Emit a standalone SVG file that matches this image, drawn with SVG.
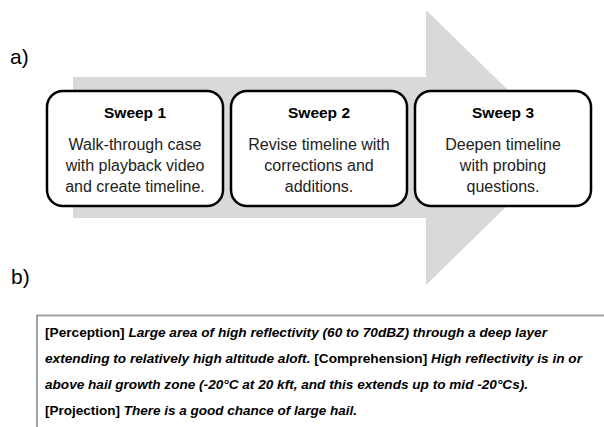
<svg xmlns="http://www.w3.org/2000/svg" width="604" height="427" viewBox="0 0 604 427">
<style>
.lbl{font-family:"Liberation Sans",Arial,sans-serif;font-size:21px;fill:#000}
.box{fill:#fff;stroke:#000;stroke-width:2.5}
.ttl{font-family:"Liberation Sans",Arial,sans-serif;font-size:15.5px;font-weight:bold;text-anchor:middle;fill:#000}
.bd{font-family:"Liberation Sans",Arial,sans-serif;font-size:16px;text-anchor:middle;fill:#222}
.tx{font-family:"Liberation Sans",Arial,sans-serif;font-size:12.5px;font-weight:bold;fill:#000}
.it{font-style:italic}
</style>
<rect width="604" height="427" fill="#fff"/>
<g id="arrow">
<polygon points="73,77 426,77 426,10 567,147.5 426,285 426,218 73,218" fill="#d9d9d9"/>
</g>
<text class="lbl" x="10" y="64">a)</text>
<text class="lbl" x="11" y="284">b)</text>
<g id="connectors"></g>
<g id="sweep1">
<rect class="box" x="47" y="91" width="176" height="115" rx="16"/>
<text class="ttl" x="135" y="118">Sweep 1</text>
<text class="bd" x="135" y="150">Walk-through case</text>
<text class="bd" x="135" y="171">with playback video</text>
<text class="bd" x="135" y="192">and create timeline.</text>
</g>
<g id="sweep2">
<rect class="box" x="231" y="91" width="176" height="115" rx="16"/>
<text class="ttl" x="319" y="118">Sweep 2</text>
<text class="bd" x="319" y="150">Revise timeline with</text>
<text class="bd" x="319" y="171">corrections and</text>
<text class="bd" x="319" y="192">additions.</text>
</g>
<g id="sweep3">
<rect class="box" x="415" y="91" width="176" height="115" rx="16"/>
<text class="ttl" x="503" y="118">Sweep 3</text>
<text class="bd" x="503" y="150">Deepen timeline</text>
<text class="bd" x="503" y="171">with probing</text>
<text class="bd" x="503" y="192">questions.</text>
</g>
<g id="textbox">
<path d="M37,427 V315.5 H604" fill="none" stroke="#a0a0a0" stroke-width="2"/>
<text class="tx" x="45" y="337" textLength="502" lengthAdjust="spacingAndGlyphs">[Perception] <tspan class="it">Large area of high reflectivity (60 to 70dBZ) through a deep layer</tspan></text>
<text class="tx" x="45" y="363" textLength="537" lengthAdjust="spacingAndGlyphs"><tspan class="it">extending to relatively high altitude aloft.</tspan> [Comprehension] <tspan class="it">High reflectivity is in or</tspan></text>
<text class="tx" x="45" y="389" textLength="483" lengthAdjust="spacingAndGlyphs"><tspan class="it">above hail growth zone (-20°C at 20 kft, and this extends up to mid -20°Cs).</tspan></text>
<text class="tx" x="45" y="415" textLength="312" lengthAdjust="spacingAndGlyphs">[Projection] <tspan class="it">There is a good chance of large hail.</tspan></text>
</g>
</svg>
